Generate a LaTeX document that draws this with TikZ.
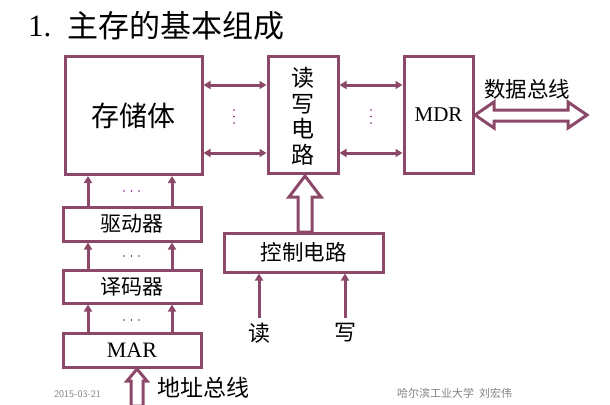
\documentclass[tikz,border=0pt]{standalone}
\usepackage{fontspec}
\setmainfont{Liberation Serif}
\newfontfamily\cjk{Noto Sans CJK SC}
\usetikzlibrary{arrows.meta}
\definecolor{plum}{RGB}{140,72,104}
\definecolor{dotc}{RGB}{120,20,120}
\definecolor{greyt}{RGB}{130,130,130}
\tikzset{
  box/.style={draw=plum,line width=3pt,fill=white,inner sep=0pt},
  conn/.style={draw=plum,line width=3pt},
  arr/.style={conn,-{Triangle[length=7pt,width=8pt]}},
  darr/.style={conn,{Triangle[length=7pt,width=8pt]}-{Triangle[length=7pt,width=8pt]}},
  hollow/.style={draw=plum,line width=3pt,fill=white,line join=miter},
  dotmark/.style={fill=dotc,circle,inner sep=0pt,minimum size=1.8pt},
}
\begin{document}
\begin{tikzpicture}[x=1pt,y=-1pt]
\useasboundingbox (0,0) rectangle (610,404);
% title
\node[anchor=west,inner sep=0pt] (title1) at (28,26) {\fontsize{31}{31}\selectfont 1.};
\node[anchor=west,inner sep=0pt] (title2) at (67,26) {\cjk\fontsize{31}{31}\selectfont 主存的基本组成};
% boxes
\node[box,minimum width=137pt,minimum height=118pt] (mem) at (133.5,115.5) {\cjk\fontsize{28}{28}\selectfont 存储体};
\node[box,minimum width=70pt,minimum height=117pt] (rw) at (303,115) {};
\node[font=\cjk\fontsize{23}{23}\selectfont,inner sep=0pt] (rwt1) at (303,78) {读};
\node[font=\cjk\fontsize{23}{23}\selectfont,inner sep=0pt] (rwt2) at (303,104) {写};
\node[font=\cjk\fontsize{23}{23}\selectfont,inner sep=0pt] (rwt3) at (303,129) {电};
\node[font=\cjk\fontsize{23}{23}\selectfont,inner sep=0pt] (rwt4) at (303,155) {路};
\node[box,minimum width=69pt,minimum height=117pt] (mdr) at (438.5,115) {\fontsize{21}{21}\selectfont MDR};
\node[box,minimum width=138pt,minimum height=34pt] (drv) at (132,224) {\cjk\fontsize{21}{21}\selectfont 驱动器};
\node[box,minimum width=138pt,minimum height=33pt] (dec) at (132,286.5) {\cjk\fontsize{21}{21}\selectfont 译码器};
\node[box,minimum width=138pt,minimum height=34pt] (mar) at (132,350) {\fontsize{22}{22}\selectfont MAR};
\node[box,minimum width=159pt,minimum height=39pt] (ctl) at (303.5,252.5) {\cjk\fontsize{21.5}{21.5}\selectfont 控制电路};
% horizontal double arrows
\draw[darr] (mem.east |- 0,85) -- (rw.west |- 0,85);
\draw[darr] (mem.east |- 0,153) -- (rw.west |- 0,153);
\draw[darr] (rw.east |- 0,85) -- (mdr.west |- 0,85);
\draw[darr] (rw.east |- 0,153) -- (mdr.west |- 0,153);
\foreach \yy in {110,116.5,123}{
  \node[dotmark] at (234,\yy) {};
  \node[dotmark] at (371,\yy) {};
}
% left column arrows
\foreach \xx in {88,172}{
  \draw[arr] (drv.north -| \xx,0) -- (mem.south -| \xx,0);
  \draw[arr] (dec.north -| \xx,0) -- (drv.south -| \xx,0);
  \draw[arr] (mar.north -| \xx,0) -- (dec.south -| \xx,0);
}
\foreach \yy in {191,256,320}{
  \foreach \xx in {124,131.5,139}{
    \node[dotmark] at (\xx,\yy) {};
  }
}
% data bus hollow double arrow
\draw[hollow] (475,115) -- (494,102) -- (494,110) -- (568,110) -- (568,102) -- (587,115)
  -- (568,128) -- (568,121) -- (494,121) -- (494,128) -- cycle;
\node[font=\cjk\fontsize{21.5}{21.5}\selectfont,inner sep=0pt] (dbus) at (527,89) {数据总线};
% address bus hollow arrow
\coordinate (abtip) at (137,369);
\draw[hollow] (abtip) -- (147,381) -- (143,381) -- (143,406) -- (131,406) -- (131,381) -- (127,381) -- cycle;
\node[font=\cjk\fontsize{23}{23}\selectfont,anchor=west,inner sep=0pt] (abus) at (157,388) {地址总线};
% control hollow arrow
\draw[hollow] (305,176) -- (321,197) -- (312,197) -- (312,232) -- (298,232) -- (298,197) -- (289,197) -- cycle;
% read / write inputs
\node[font=\cjk\fontsize{22}{22}\selectfont,inner sep=0pt] (rd) at (259,333) {读};
\node[font=\cjk\fontsize{22}{22}\selectfont,inner sep=0pt] (wr) at (345,333) {写};
\draw[arr] (rd.north |- 0,318) -- (ctl.south -| rd.north);
\draw[arr] (wr.north |- 0,318) -- (ctl.south -| wr.north);
% footer
\node[font=\sffamily\fontsize{10}{10}\selectfont,text=greyt,anchor=west,inner sep=0pt] (date) at (54,394) {2015-03-21};
\node[font=\cjk\fontsize{11}{11}\selectfont,text=greyt,anchor=west,inner sep=0pt] (foot) at (397,393) {哈尔滨工业大学\hspace{5pt}刘宏伟};
\end{tikzpicture}
\end{document}
